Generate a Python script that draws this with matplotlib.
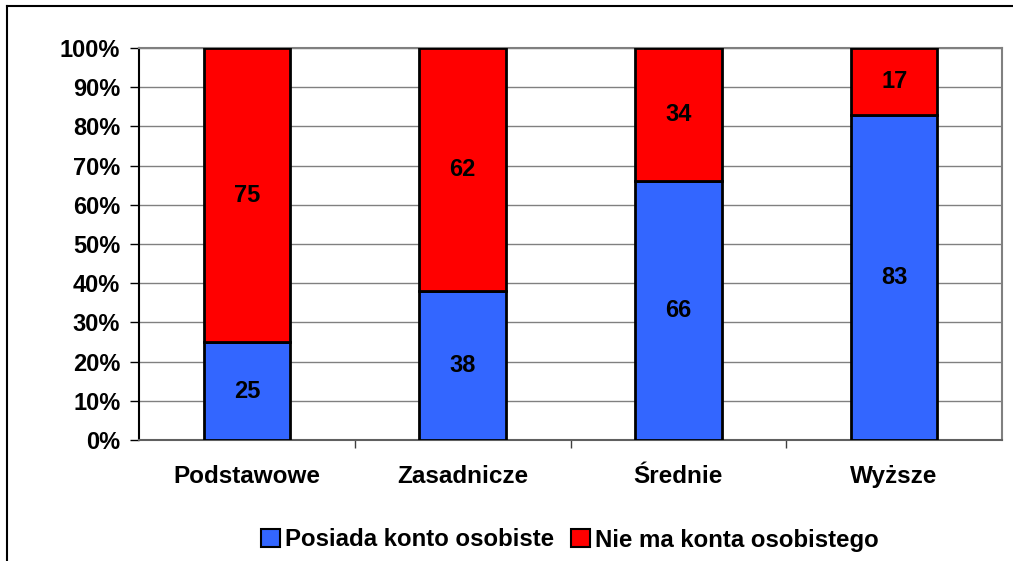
import matplotlib.pyplot as plt
from matplotlib.lines import Line2D
import numpy as np

plt.rcParams['font.family'] = ['Liberation Sans', 'DejaVu Sans']
plt.rcParams['font.weight'] = 'bold'

# Data
categories = ["Podstawowe", "Zasadnicze", "Średnie", "Wyższe"]
has_account = [25, 38, 66, 83]
no_account = [75, 62, 34, 17]
series_names = ["Posiada konto osobiste", "Nie ma konta osobistego"]

fig = plt.figure(figsize=(10.13, 5.61), dpi=100)
ax = fig.add_axes([139 / 1013, 1 - 440 / 561, 863 / 1013, 392 / 561])

x = np.arange(len(categories))
b1 = ax.bar(x, has_account, width=0.4, color="#3366FF", edgecolor="black",
            linewidth=2, label=series_names[0], zorder=3)
b2 = ax.bar(x, no_account, width=0.4, bottom=has_account, color="#FF0000",
            edgecolor="black", linewidth=2, label=series_names[1], zorder=3)

# value labels in the middle of each segment
for xi, a, n in zip(x, has_account, no_account):
    ax.text(xi, a / 2, str(a), ha="center", va="center", fontsize=17,
            fontweight="bold", zorder=4)
    ax.text(xi, a + n / 2, str(n), ha="center", va="center", fontsize=17,
            fontweight="bold", zorder=4)

ax.set_xlim(-0.5, 3.5)
ax.set_ylim(0, 100)
ax.set_yticks(np.arange(0, 101, 10))
ax.set_yticklabels([f"{v}%" for v in range(0, 101, 10)])
ax.yaxis.grid(True, color="#808080", linewidth=1, zorder=0)

ax.set_xticks(x)
ax.set_xticklabels(categories)
ax.set_xticks([0.5, 1.5, 2.5], minor=True)
ax.tick_params(axis="x", which="major", length=0, pad=18, labelsize=17.5)
ax.tick_params(axis="x", which="minor", length=6, width=1, color="#404040")
ax.tick_params(axis="y", length=6.5, width=1, pad=7, labelsize=17)

ax.spines["left"].set_color("black")
ax.spines["bottom"].set_color("#606060")
ax.spines["top"].set_color("#808080")
ax.spines["right"].set_color("#808080")
for s in ax.spines.values():
    s.set_linewidth(1.5)

leg = fig.legend(handles=[b1, b2], loc="center", ncol=2,
                 bbox_to_anchor=(570 / 1013, 1 - 540 / 561), frameon=False,
                 prop={"size": 17.3, "weight": "bold"}, handlelength=0.8,
                 handleheight=0.8, handletextpad=0.2, columnspacing=0.7)
for h in leg.legend_handles:
    h.set_linewidth(1.5)
    h.set_edgecolor("black")

# outer frame (left and top edges visible)
fig.add_artist(Line2D([7 / 1013, 7 / 1013], [0, 1 - 6 / 561],
                      transform=fig.transFigure, color="black", linewidth=1.5))
fig.add_artist(Line2D([7 / 1013, 1], [1 - 6 / 561, 1 - 6 / 561],
                      transform=fig.transFigure, color="black", linewidth=1.5))

fig.savefig("out.png", dpi=100)
